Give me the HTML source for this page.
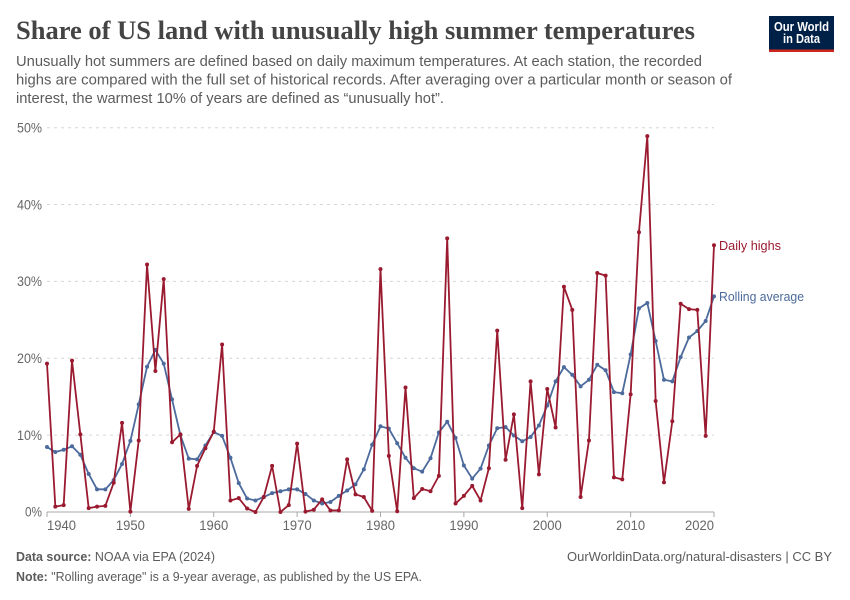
<!DOCTYPE html>
<html lang="en">
<head>
<meta charset="utf-8">
<title>Share of US land with unusually high summer temperatures</title>
<style>
html,body{margin:0;padding:0;background:#fff;width:850px;height:600px;overflow:hidden}
svg{display:block}
text{font-family:"Liberation Sans",sans-serif}
</style>
</head>
<body>
<svg id="chart" xmlns="http://www.w3.org/2000/svg" width="850" height="600" viewBox="0 0 850 600">
  <rect width="850" height="600" fill="#fff"/>
  <text x="16" y="39" font-size="26" font-weight="700" fill="#444444" style="font-family:'Liberation Serif',serif" textLength="679" lengthAdjust="spacingAndGlyphs">Share of US land with unusually high summer temperatures</text>
  <g font-size="15" fill="#5b5b5b">
    <text x="16" y="66" textLength="686" lengthAdjust="spacingAndGlyphs">Unusually hot summers are defined based on daily maximum temperatures. At each station, the recorded</text>
    <text x="16" y="84.5" textLength="716" lengthAdjust="spacingAndGlyphs">highs are compared with the full set of historical records. After averaging over a particular month or season of</text>
    <text x="16" y="103" textLength="428" lengthAdjust="spacingAndGlyphs">interest, the warmest 10% of years are defined as “unusually hot”.</text>
  </g>
  <g>
    <rect x="769" y="16" width="65" height="36" fill="#002147"/>
    <rect x="769" y="49.5" width="65" height="2.5" fill="#ce261e"/>
    <text x="801.5" y="31" font-size="12.5" font-weight="700" fill="#fff" text-anchor="middle" textLength="55" lengthAdjust="spacingAndGlyphs">Our World</text>
    <text x="801.5" y="43" font-size="12.5" font-weight="700" fill="#fff" text-anchor="middle" textLength="37" lengthAdjust="spacingAndGlyphs">in Data</text>
  </g>
  <g id="grid"></g>
  <g id="y-labels"></g>
  <g id="x-axis"></g>
  <g id="series"></g>
  <g id="legend"></g>
  <g font-size="13" fill="#5b5b5b">
    <text x="16" y="561" textLength="199" lengthAdjust="spacingAndGlyphs"><tspan font-weight="700">Data source:</tspan> NOAA via EPA (2024)</text>
    <text x="832" y="561" text-anchor="end" textLength="265" lengthAdjust="spacingAndGlyphs">OurWorldinData.org/natural-disasters | CC BY</text>
    <text x="16" y="581" textLength="406" lengthAdjust="spacingAndGlyphs"><tspan font-weight="700">Note:</tspan> "Rolling average" is a 9-year average, as published by the US EPA.</text>
  </g>
</svg>
<script>
const years = [1940,1941,1942,1943,1944,1945,1946,1947,1948,1949,
  1950,1951,1952,1953,1954,1955,1956,1957,1958,1959,
  1960,1961,1962,1963,1964,1965,1966,1967,1968,1969,
  1970,1971,1972,1973,1974,1975,1976,1977,1978,1979,
  1980,1981,1982,1983,1984,1985,1986,1987,1988,1989,
  1990,1991,1992,1993,1994,1995,1996,1997,1998,1999,
  2000,2001,2002,2003,2004,2005,2006,2007,2008,2009,
  2010,2011,2012,2013,2014,2015,2016,2017,2018,2019,2020];
const dailyHighs = [19.3,0.7,0.9,19.7,10.1,0.5,0.7,0.8,3.8,11.6,
  0.05,9.3,32.2,18.35,30.3,9.07,10.1,0.4,6.0,8.3,
  10.45,21.8,1.5,1.8,0.45,0,1.95,6.0,0,0.9,
  8.9,0.05,0.3,1.65,0.2,0.2,6.85,2.3,1.95,0.15,
  31.6,7.3,0.1,16.2,1.8,3.0,2.7,4.7,35.6,1.1,
  2.1,3.4,1.5,5.7,23.6,6.8,12.7,0.5,17.0,4.9,
  16.0,11.0,29.3,26.3,1.95,9.3,31.1,30.75,4.5,4.25,
  15.3,36.4,48.9,14.45,3.85,11.8,27.1,26.4,26.3,9.9,34.7];
const rollingAverage = [8.45,7.8,8.1,8.55,7.45,4.95,2.95,2.95,4.15,6.25,
  9.25,14.0,18.9,21.1,19.3,14.65,10.0,6.95,6.85,8.65,
  10.4,9.9,7.05,3.75,1.75,1.5,1.95,2.45,2.7,2.95,
  2.95,2.35,1.5,1.1,1.3,2.1,2.8,3.6,5.55,8.75,
  11.15,10.85,8.95,7.05,5.7,5.25,7.0,10.35,11.75,9.65,
  6.05,4.35,5.65,8.65,10.9,11.05,9.95,9.2,9.75,11.25,
  13.85,17.0,18.85,17.85,16.35,17.2,19.15,18.45,15.6,15.45,
  20.5,26.5,27.2,22.25,17.2,17.0,20.15,22.7,23.55,24.85,28.05];
const xTicks = [1940,1950,1960,1970,1980,1990,2000,2010,2020];
const yTicks = [0,10,20,30,40,50];

const NS = 'http://www.w3.org/2000/svg';
const X0 = 47, X1 = 714, Y0 = 512, Y50 = 127.7;
const xMin = 1940, xMax = 2020, yMin = 0, yMax = 50;
function xScale(year) { return X0 + (year - xMin) / (xMax - xMin) * (X1 - X0); }
function yScale(value) { return Y0 - (value - yMin) / (yMax - yMin) * (Y0 - Y50); }
function make(tag, parent, attrs, text) {
  const el = document.createElementNS(NS, tag);
  for (const k in attrs) el.setAttribute(k, attrs[k]);
  if (text !== undefined) el.textContent = text;
  parent.appendChild(el);
  return el;
}

const gridG = document.getElementById('grid');
const yLabG = document.getElementById('y-labels');
yTicks.forEach(function (t) {
  if (t !== 0) {
    const g = make('line', gridG, {x1: X0, x2: X1, y1: yScale(t), y2: yScale(t), stroke: '#d6d6d6', 'stroke-width': 1, 'stroke-dasharray': '3,4'});
    
    
  }
  const l = make('text', yLabG, {x: 42, y: yScale(t) + 4.7, 'font-size': 13.5, fill: '#666666', 'text-anchor': 'end', textLength: t === 0 ? 17 : 25, lengthAdjust: 'spacingAndGlyphs'}, t + '%');
  
  
});

const xG = document.getElementById('x-axis');
const axisLine = make('line', xG, {x1: X0, x2: X1, y1: Y0, y2: Y0, stroke: '#a8a8a8', 'stroke-width': 1});


xTicks.forEach(function (t, i) {
  const px = xScale(t);
  const tick = make('line', xG, {x1: px, x2: px, y1: Y0, y2: Y0 + 5, stroke: '#a8a8a8', 'stroke-width': 1});
  
  
  const anchor = i === 0 ? 'start' : (i === xTicks.length - 1 ? 'end' : 'middle');
  const lab = make('text', xG, {x: px, y: 530, 'font-size': 13.5, fill: '#666666', 'text-anchor': anchor, textLength: 29, lengthAdjust: 'spacingAndGlyphs'}, String(t));
  
  
});

function drawSeries(name, values, color) {
  const sG = document.getElementById('series');
  const g = make('g', sG, {});
  
  
  const pts = values.map(function (v, i) { return xScale(years[i]).toFixed(2) + ',' + yScale(v).toFixed(2); }).join(' ');
  const line = make('polyline', g, {points: pts, fill: 'none', stroke: color, 'stroke-width': 1.8, 'stroke-linejoin': 'round'});
  
  
  values.forEach(function (v, i) {
    const dot = make('circle', g, {cx: xScale(years[i]).toFixed(2), cy: yScale(v).toFixed(2), r: 2, fill: color});
    
    
  });
}
const BLUE = '#4c6a9c', RED = '#9a1a30';
drawSeries('rolling-average', rollingAverage, BLUE);
drawSeries('daily-highs', dailyHighs, RED);

const legG = document.getElementById('legend');
const redLabel = make('text', legG, {x: 719, y: yScale(dailyHighs[dailyHighs.length - 1]) + 4.7, 'font-size': 13, fill: RED, textLength: 62, lengthAdjust: 'spacingAndGlyphs'}, 'Daily highs');


const blueLabel = make('text', legG, {x: 719, y: yScale(rollingAverage[rollingAverage.length - 1]) + 4.7, 'font-size': 13, fill: BLUE, textLength: 85, lengthAdjust: 'spacingAndGlyphs'}, 'Rolling average');


</script>
</body>
</html>
